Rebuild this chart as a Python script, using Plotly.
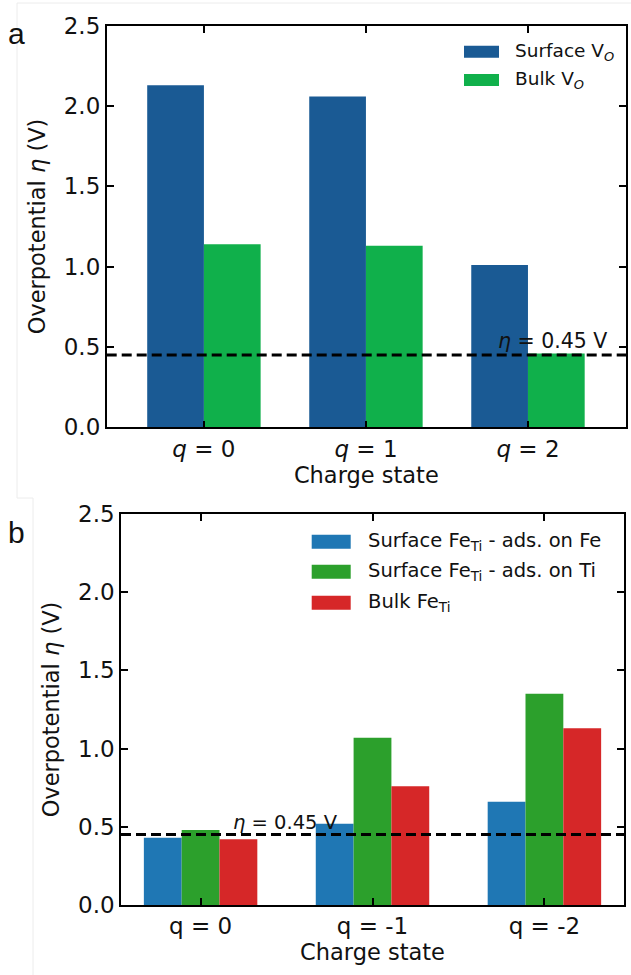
import plotly.graph_objects as go

# ---------------- data ----------------
top_categories = ["q = 0", "q = 1", "q = 2"]
top_ticktext = ["<i>q</i> = 0", "<i>q</i> = 1", "<i>q</i> = 2"]
surface_vo = [2.13, 2.06, 1.01]
bulk_vo = [1.14, 1.13, 0.46]
top_names = ["Surface V<sub><i>O</i></sub>", "Bulk V<sub><i>O</i></sub>"]

bottom_categories = ["q = 0", "q = -1", "q = -2"]
surface_fe_on_fe = [0.43, 0.52, 0.66]
surface_fe_on_ti = [0.48, 1.07, 1.35]
bulk_fe = [0.42, 0.76, 1.13]
bottom_names = ["Surface Fe<sub>Ti</sub> - ads. on Fe",
                "Surface Fe<sub>Ti</sub> - ads. on Ti",
                "Bulk Fe<sub>Ti</sub>"]

eta_ref = 0.45
eta_label = "<i>η</i> = 0.45 V"
y_ticks = [0.0, 0.5, 1.0, 1.5, 2.0, 2.5]

# ---------------- style ----------------
W, H = 631, 975
FONT = "DejaVu Sans"
top_colors = ["#1a5a94", "#10b04b"]
bottom_colors = ["#1f77b4", "#2ca02c", "#d62728"]


def px(x):
    return x / W


def py(y):
    return 1 - y / H


fig = go.Figure()

# top panel bars
top_series = [surface_vo, bulk_vo]
top_offsets = [-0.35, 0.0]
for name, vals, col, off in zip(top_names, top_series, top_colors, top_offsets):
    fig.add_trace(go.Bar(x=top_categories, y=vals, name=name, marker_color=col,
                         marker_line_width=0, width=0.35, offset=off,
                         xaxis="x", yaxis="y", showlegend=False))

# bottom panel bars
bottom_series = [surface_fe_on_fe, surface_fe_on_ti, bulk_fe]
bottom_offsets = [-0.33, -0.11, 0.11]
for name, vals, col, off in zip(bottom_names, bottom_series, bottom_colors, bottom_offsets):
    fig.add_trace(go.Bar(x=bottom_categories, y=vals, name=name, marker_color=col,
                         marker_line_width=0, width=0.22, offset=off,
                         xaxis="x2", yaxis="y2", showlegend=False))

axis_common = dict(
    showline=True, linecolor="black", linewidth=1.6, mirror="ticks",
    ticks="inside", ticklen=7, tickwidth=1.5, tickcolor="black",
    showgrid=False, zeroline=False, automargin=False,
    tickfont=dict(family=FONT, size=23, color="#111"),
)

fig.update_layout(
    width=W, height=H,
    margin=dict(l=0, r=0, t=0, b=0, pad=0, autoexpand=False),
    showlegend=False,
    paper_bgcolor="white", plot_bgcolor="white",
    font=dict(family=FONT, color="#111"),
    barmode="overlay",
    xaxis=dict(domain=[px(106.7), px(626)], anchor="y",
               range=[-0.6, 2.605], tickvals=top_categories, ticktext=top_ticktext,
               title=dict(text="Charge state", font=dict(family=FONT, size=22.5), standoff=4),
               **axis_common),
    yaxis=dict(domain=[py(427.3), py(25.7)], anchor="x",
               range=[0, 2.5], tickvals=y_ticks, tickformat=".1f",
               title=dict(text="Overpotential <i>η</i> (V)", font=dict(family=FONT, size=22.5), standoff=12),
               **axis_common),
    xaxis2=dict(domain=[px(121), px(624)], anchor="y2",
                range=[-0.463, 2.463], tickvals=bottom_categories, ticktext=bottom_categories,
                title=dict(text="Charge state", font=dict(family=FONT, size=22.5), standoff=4),
                **axis_common),
    yaxis2=dict(domain=[py(905), py(514)], anchor="x2",
                range=[0, 2.5], tickvals=y_ticks, tickformat=".1f",
                title=dict(text="Overpotential <i>η</i> (V)", font=dict(family=FONT, size=22.5), standoff=12),
                **axis_common),
)

shapes = []
annotations = []

# reference dashed lines
for xr, yr in [("x domain", "y"), ("x2 domain", "y2")]:
    shapes.append(dict(type="line", xref=xr, yref=yr, x0=0, x1=1, y0=eta_ref, y1=eta_ref,
                       line=dict(color="black", width=3, dash="10px,5px"), layer="above"))

annotations.append(dict(text=eta_label, xref="x domain", yref="y", x=0.968, y=eta_ref,
                        xanchor="right", yanchor="bottom", yshift=0, showarrow=False,
                        font=dict(family=FONT, size=20.5, color="#111")))
annotations.append(dict(text=eta_label, xref="x2 domain", yref="y2", x=0.218, y=eta_ref,
                        xanchor="left", yanchor="bottom", yshift=-1, showarrow=False,
                        font=dict(family=FONT, size=19.5, color="#111")))

# custom legends
top_rows = [51.7, 80.0]
for name, col, yc in zip(top_names, top_colors, top_rows):
    shapes.append(dict(type="rect", xref="paper", yref="paper",
                       x0=px(464), x1=px(499), y0=py(yc + 6), y1=py(yc - 6),
                       fillcolor=col, line=dict(width=0)))
    annotations.append(dict(text=name, xref="paper", yref="paper", x=px(513), y=py(yc),
                            xanchor="left", yanchor="middle", showarrow=False,
                            font=dict(family=FONT, size=18.5, color="#111")))

bottom_rows = [541.7, 571.7, 602.7]
for name, col, yc in zip(bottom_names, bottom_colors, bottom_rows):
    shapes.append(dict(type="rect", xref="paper", yref="paper",
                       x0=px(311.7), x1=px(350.7), y0=py(yc + 7), y1=py(yc - 7),
                       fillcolor=col, line=dict(width=0)))
    annotations.append(dict(text=name, xref="paper", yref="paper", x=px(366), y=py(yc),
                            xanchor="left", yanchor="middle", showarrow=False,
                            font=dict(family=FONT, size=19.5, color="#111")))

# panel labels
annotations.append(dict(text="a", xref="paper", yref="paper", x=px(16), y=py(33),
                        xanchor="center", yanchor="middle", showarrow=False,
                        font=dict(family="Liberation Sans", size=30, color="#111")))
annotations.append(dict(text="b", xref="paper", yref="paper", x=px(16), y=py(532),
                        xanchor="center", yanchor="middle", showarrow=False,
                        font=dict(family="Liberation Sans", size=30, color="#111")))

# faint sub-figure border lines
for x0, y0, x1, y1 in [(17, 3, 631, 3), (17, 3, 17, 498), (17, 498, 33, 498), (33, 498, 33, 975)]:
    shapes.append(dict(type="line", xref="paper", yref="paper",
                       x0=px(x0), x1=px(x1), y0=py(y0), y1=py(y1),
                       line=dict(color="#ececec", width=1)))

fig.update_layout(shapes=shapes, annotations=annotations)

fig.write_html("out.html")
